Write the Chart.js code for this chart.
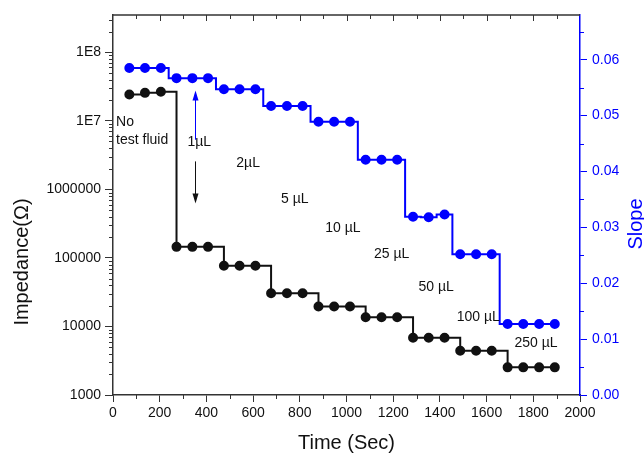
<!DOCTYPE html>
<html>
<head>
<meta charset="utf-8">
<title>Impedance and slope vs time</title>
<script src="https://cdn.jsdelivr.net/npm/chart.js@4.4.1/dist/chart.umd.min.js"></script>
<style>
  html, body { margin: 0; padding: 0; background: #fff; }
</style>
</head>
<body>
<canvas id="myChart" width="644" height="454"></canvas>
<script>
// Measurement times (s)
const times = [70, 137, 205, 272, 340, 407, 475, 542, 610, 677, 745, 812, 880, 947,
    1015, 1082, 1150, 1217, 1285, 1352, 1420, 1487, 1555, 1622, 1690, 1757, 1825, 1892];

// Impedance (ohm) - left axis
const impedance = [2.42e7, 2.56e7, 2.65e7, 1.45e5, 1.45e5, 1.45e5, 7.7e4, 7.7e4, 7.7e4,
    3.05e4, 3.05e4, 3.05e4, 1.95e4, 1.95e4, 1.95e4, 1.36e4, 1.36e4, 1.36e4,
    6850, 6850, 6850, 4430, 4430, 4430, 2530, 2530, 2530, 2530];

// Slope - right axis
const slope = [0.0585, 0.0585, 0.0585, 0.0567, 0.0567, 0.0567, 0.0547, 0.0547, 0.0547,
    0.0517, 0.0517, 0.0517, 0.0489, 0.0489, 0.0489, 0.0421, 0.0421, 0.0421,
    0.0319, 0.0318, 0.0323, 0.0252, 0.0252, 0.0252, 0.0127, 0.0127, 0.0127, 0.0127];

// Axis ticks
const timeTicks = [0, 200, 400, 600, 800, 1000, 1200, 1400, 1600, 1800, 2000];
const impedanceTicks = [1e3, 1e4, 1e5, 1e6, 1e7, 1e8];
const impedanceLabels = ['1000', '10000', '100000', '1000000', '1E7', '1E8'];
const slopeTicks = [0, 0.01, 0.02, 0.03, 0.04, 0.05, 0.06];

// Volume labels, anchored at (time, impedance)
const volumeLabels = [
    { text: 'No', t: 13, z: 9.5e6 },
    { text: 'test fluid', t: 13, z: 5.2e6 },
    { text: '1µL', t: 319, z: 4.9e6 },
    { text: '2µL', t: 528, z: 2.43e6 },
    { text: '5 µL', t: 720, z: 7.3e5 },
    { text: '10 µL', t: 909, z: 2.72e5 },
    { text: '25 µL', t: 1118, z: 1.15e5 },
    { text: '50 µL', t: 1308, z: 3.8e4 },
    { text: '100 µL', t: 1472, z: 1.39e4 },
    { text: '250 µL', t: 1719, z: 5.7e3 }
];

const FONT = "'Liberation Sans', Arial, sans-serif";
const AXIS = '#333';
const BLUE = '#0000ff';

Chart.defaults.font.family = FONT;
Chart.defaults.font.size = 14;
Chart.defaults.color = '#111';

function arrow(ctx, x, y0, y1, color) {
    const dir = y1 < y0 ? -1 : 1;
    ctx.strokeStyle = color;
    ctx.fillStyle = color;
    ctx.lineWidth = 1;
    ctx.beginPath();
    ctx.moveTo(x, y0);
    ctx.lineTo(x, y1 - dir * 8);
    ctx.stroke();
    ctx.beginPath();
    ctx.moveTo(x, y1);
    ctx.lineTo(x - 3, y1 - dir * 10);
    ctx.lineTo(x + 3, y1 - dir * 10);
    ctx.closePath();
    ctx.fill();
}

// Minor ticks, top frame, axis titles and the volume notes
const extras = {
    id: 'extras',
    afterDatasetsDraw(chart) {
        const ctx = chart.ctx;
        const area = chart.chartArea;
        const x = chart.scales.x, y = chart.scales.y, y1 = chart.scales.y1;
        ctx.save();

        // top frame with inward ticks
        ctx.strokeStyle = AXIS;
        ctx.lineWidth = 1.5;
        ctx.beginPath();
        ctx.moveTo(area.left, area.top);
        ctx.lineTo(area.right, area.top);
        ctx.stroke();

        ctx.lineWidth = 1;
        ctx.beginPath();
        for (let t = 100; t < 2000; t += 100) {
            const px = Math.round(x.getPixelForValue(t)) + 0.5;
            // bottom minor ticks (outward)
            if (t % 200 !== 0) {
                ctx.moveTo(px, area.bottom);
                ctx.lineTo(px, area.bottom + 4);
            }
            ctx.moveTo(px, area.top);
            ctx.lineTo(px, area.top + (t % 200 === 0 ? 6 : 4));
        }
        // log minor ticks on the left
        for (let d = 1e3; d < 4e8; d *= 10) {
            for (let m = 2; m <= 9; m++) {
                const v = d * m;
                if (v > y.max) break;
                const py = Math.round(y.getPixelForValue(v)) + 0.5;
                ctx.moveTo(area.left, py);
                ctx.lineTo(area.left - 4, py);
            }
        }
        ctx.stroke();

        // right axis minor ticks
        ctx.strokeStyle = BLUE;
        ctx.beginPath();
        for (let s = 0.005; s < y1.max; s += 0.01) {
            const py = Math.round(y1.getPixelForValue(s)) + 0.5;
            ctx.moveTo(area.right, py);
            ctx.lineTo(area.right + 4, py);
        }
        ctx.stroke();

        // axis titles
        ctx.font = '20px ' + FONT;
        ctx.fillStyle = '#111';
        ctx.textAlign = 'center';
        ctx.textBaseline = 'middle';
        ctx.fillText('Time (Sec)', (area.left + area.right) / 2, 443);

        ctx.save();
        ctx.translate(22, 262);
        ctx.rotate(-Math.PI / 2);
        ctx.fillText('Impedance(\u03A9)', 0, 0);
        ctx.restore();

        ctx.save();
        ctx.translate(636, 224);
        ctx.rotate(-Math.PI / 2);
        ctx.fillStyle = BLUE;
        ctx.fillText('Slope', 0, 0);
        ctx.restore();

        // volume notes
        ctx.font = '14px ' + FONT;
        ctx.fillStyle = '#111';
        ctx.textAlign = 'left';
        volumeLabels.forEach(l => {
            ctx.fillText(l.text, x.getPixelForValue(l.t), y.getPixelForValue(l.z));
        });

        const ax = Math.round(x.getPixelForValue(352)) + 0.5;
        arrow(ctx, ax, y.getPixelForValue(5.3e6), y.getPixelForValue(2.77e7), BLUE);
        arrow(ctx, ax, y.getPixelForValue(2.56e6), y.getPixelForValue(6.2e5), '#111');

        ctx.restore();
    }
};

const ctx = document.getElementById('myChart').getContext('2d');
new Chart(ctx, {
    type: 'line',
    data: {
        datasets: [{
            label: 'Impedance',
            data: times.map((t, i) => ({ x: t, y: impedance[i] })),
            yAxisID: 'y',
            borderColor: '#111',
            backgroundColor: '#111',
            borderWidth: 2,
            pointRadius: 4,
            pointHoverRadius: 4,
            stepped: 'before',
            fill: false
        }, {
            label: 'Slope',
            data: times.map((t, i) => ({ x: t, y: slope[i] })),
            yAxisID: 'y1',
            borderColor: BLUE,
            backgroundColor: BLUE,
            borderWidth: 2,
            pointRadius: 4,
            pointHoverRadius: 4,
            stepped: 'middle',
            fill: false
        }]
    },
    options: {
        responsive: false,
        animation: false,
        events: [],
        layout: { padding: { top: 15, left: 0, right: 0, bottom: 0 } },
        plugins: {
            legend: { display: false },
            tooltip: { enabled: false }
        },
        scales: {
            x: {
                type: 'linear',
                min: 0,
                max: 2000,
                afterBuildTicks: scale => { scale.ticks = timeTicks.map(v => ({ value: v })); },
                afterFit: scale => { scale.height = 59; },
                ticks: { padding: 3, color: '#111', callback: v => String(v) },
                grid: { drawOnChartArea: false, drawTicks: true, tickLength: 7, color: AXIS },
                border: { display: true, color: AXIS, width: 1.5 }
            },
            y: {
                type: 'logarithmic',
                position: 'left',
                min: 1000,
                max: 3.5e8,
                afterBuildTicks: scale => { scale.ticks = impedanceTicks.map(v => ({ value: v })); },
                afterFit: scale => { scale.width = 113; },
                ticks: {
                    padding: 4,
                    color: '#111',
                    callback: v => impedanceLabels[impedanceTicks.indexOf(v)]
                },
                grid: { drawOnChartArea: false, drawTicks: true, tickLength: 8, color: AXIS },
                border: { display: true, color: AXIS, width: 1.5 }
            },
            y1: {
                type: 'linear',
                position: 'right',
                min: 0,
                max: 0.068,
                afterBuildTicks: scale => { scale.ticks = slopeTicks.map(v => ({ value: v })); },
                afterFit: scale => { scale.width = 64; },
                ticks: { padding: 5, color: BLUE, callback: v => v.toFixed(2) },
                grid: { drawOnChartArea: false, drawTicks: true, tickLength: 7, color: BLUE },
                border: { display: true, color: BLUE, width: 1.5 }
            }
        }
    },
    plugins: [extras]
});
</script>
</body>
</html>
